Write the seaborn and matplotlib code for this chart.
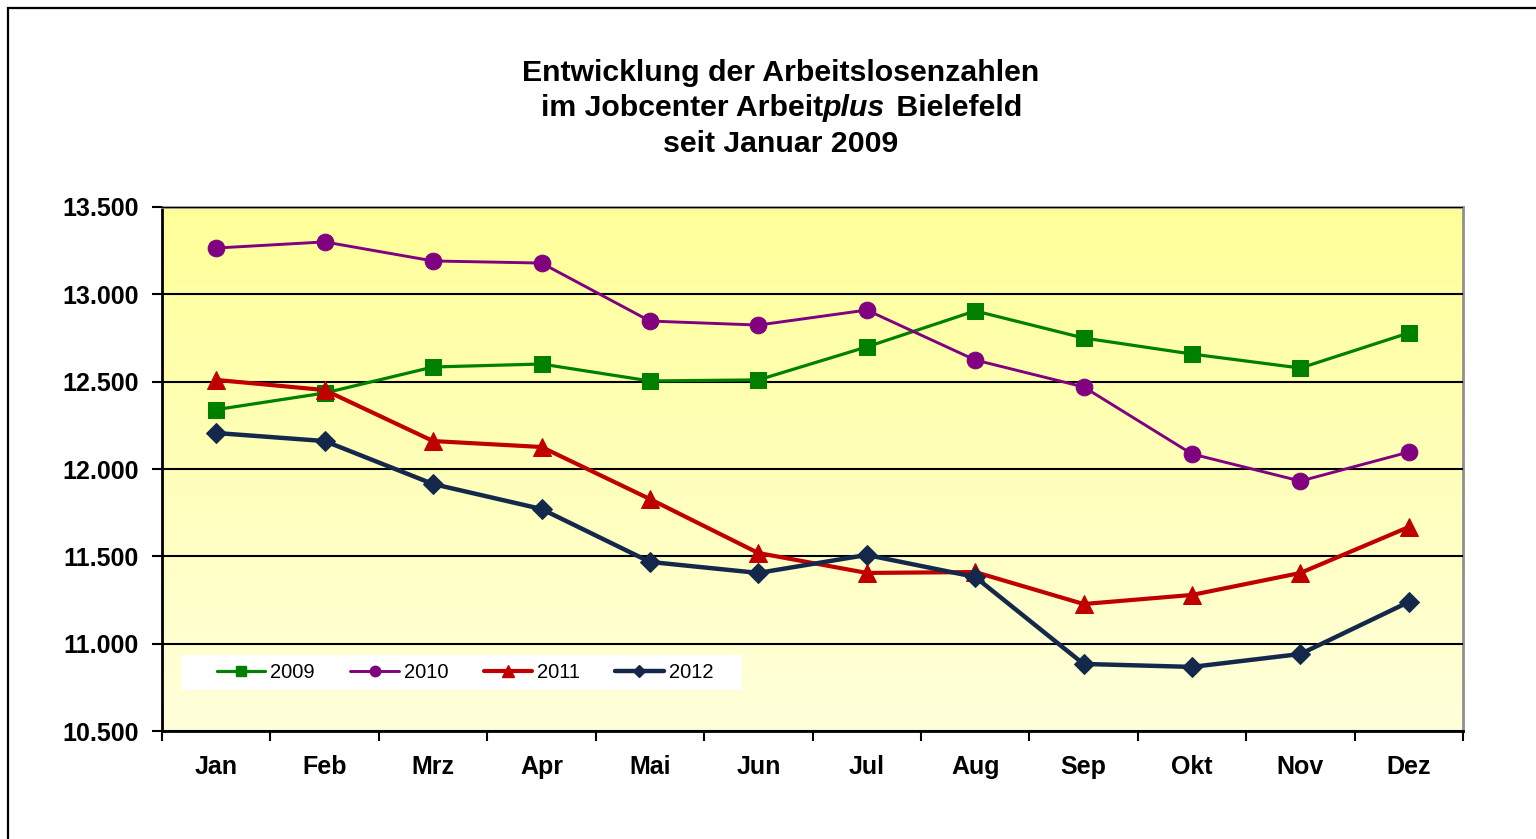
import numpy as np
import pandas as pd
import matplotlib
matplotlib.use("Agg")
import matplotlib.pyplot as plt
import seaborn as sns
from matplotlib.lines import Line2D
from matplotlib.patches import Rectangle
from matplotlib.ticker import FuncFormatter, FixedLocator

months = ["Jan", "Feb", "Mrz", "Apr", "Mai", "Jun", "Jul", "Aug", "Sep", "Okt", "Nov", "Dez"]
years = ["2009", "2010", "2011", "2012"]

v2009 = [12340, 12435, 12584, 12601, 12504, 12510, 12699, 12905, 12750, 12658, 12578, 12779]
v2010 = [13265, 13300, 13191, 13179, 12847, 12824, 12910, 12624, 12470, 12086, 11931, 12097]
v2011 = [12510, 12452, 12160, 12126, 11828, 11519, 11405, 11410, 11227, 11279, 11405, 11668]
v2012 = [12206, 12160, 11914, 11771, 11468, 11405, 11508, 11382, 10884, 10867, 10941, 11239]

df = pd.DataFrame({
    "Monat": months * 4,
    "pos": list(range(len(months))) * 4,
    "Jahr": np.repeat(years, len(months)),
    "Wert": v2009 + v2010 + v2011 + v2012,
})

styles = {
    "2009": dict(color="#008000", marker="s", ms=11, lw=2.3, lms=7),
    "2010": dict(color="#800080", marker="o", ms=12, lw=2.1, lms=7.5),
    "2011": dict(color="#C00000", marker="^", ms=13.5, lw=3.0, lms=8.5),
    "2012": dict(color="#14284B", marker="D", ms=10, lw=3.2, lms=6),
}

sns.set_theme(style="white")
plt.rcParams['font.family'] = ['Liberation Sans', 'DejaVu Sans']

fig = plt.figure(figsize=(15.36, 8.39), dpi=100)
ax = fig.add_axes([0.1055, 0.1287, 0.847, 0.6246])

# yellow gradient background
grad = np.linspace(0, 1, 256).reshape(-1, 1)
top = np.array([1.0, 1.0, 0.60])
bot = np.array([1.0, 1.0, 0.86])
img = top[None, None, :] * (1 - grad[:, :, None]) + bot[None, None, :] * grad[:, :, None]
ax.imshow(img, extent=[0, 1, 0, 1], transform=ax.transAxes, aspect="auto", zorder=0)

for y in years:
    s = styles[y]
    sns.lineplot(data=df[df["Jahr"] == y], x="pos", y="Wert", ax=ax, color=s["color"],
                 marker=s["marker"], markersize=s["ms"], linewidth=s["lw"],
                 markeredgecolor=s["color"], sort=False, zorder=3, label=None, legend=False)

ax.set_xlim(-0.5, 11.5)
ax.set_ylim(10500, 13500)
ax.set_xlabel("")
ax.set_ylabel("")
ax.set_xticks(range(len(months)))
ax.set_xticklabels(months)
ax.xaxis.set_minor_locator(FixedLocator(np.arange(-0.5, 12, 1)))
ax.set_yticks(np.arange(10500, 13501, 500))
ax.yaxis.set_major_formatter(FuncFormatter(lambda v, p: f"{v:,.0f}".replace(",", ".")))

ax.tick_params(axis="x", which="major", length=0, pad=17, labelsize=18)
ax.tick_params(axis="x", which="minor", length=7, width=1.5, color="black", direction="out", bottom=True)
ax.tick_params(axis="y", which="major", length=7, width=1.5, color="black", direction="out",
               left=True, pad=10, labelsize=18)
for lbl in ax.get_xticklabels() + ax.get_yticklabels():
    lbl.set_fontweight("bold")
    lbl.set_color("black")

ax.yaxis.grid(True, color="black", linewidth=1.5, zorder=1)
ax.set_axisbelow(False)
for ln in ax.get_ygridlines():
    ln.set_zorder(1)
ax.spines["left"].set_color("black")
ax.spines["bottom"].set_color("black")
ax.spines["top"].set_color("#909090")
ax.spines["right"].set_color("#909090")
for sp in ax.spines.values():
    sp.set_linewidth(2)
    sp.set_visible(True)

# legend: white box plus entries
ax.add_patch(Rectangle((19 / 1301, 41 / 524), 561 / 1301, 35 / 524, transform=ax.transAxes,
                       facecolor="white", edgecolor="none", zorder=2))
handles = [Line2D([], [], color=styles[y]["color"], lw=styles[y]["lw"], marker=styles[y]["marker"],
                  markersize=styles[y]["lms"], markeredgecolor=styles[y]["color"]) for y in years]
leg = ax.legend(handles, years, ncol=4, loc="center", bbox_to_anchor=(55 / 1301, 41 / 524, 496 / 1301, 35 / 524),
                mode="expand", frameon=False, fontsize=14.5, handlelength=2.4, handletextpad=0.25,
                borderaxespad=0, borderpad=0)
for t in leg.get_texts():
    t.set_color("black")

# outer frame
fig.patches.append(Rectangle((8 / 1536, -0.1), 1.2, 1.1 - 8 / 839, transform=fig.transFigure,
                             fill=False, edgecolor="black", linewidth=1.6, clip_on=False))

# title
fs = 21.8
fig.text(0.508, 1 - 73 / 839, "Entwicklung der Arbeitslosenzahlen", ha="center", va="center",
         fontsize=fs, fontweight="bold", color="black")
fig.text(0.508, 1 - 144 / 839, "seit Januar 2009", ha="center", va="center",
         fontsize=fs, fontweight="bold", color="black")
yl = 1 - 108 / 839
parts = [("im Jobcenter Arbeit", "normal"), ("plus", "italic"), (" Bielefeld", "normal")]
txts = [fig.text(0, yl, p, ha="left", va="center", fontsize=fs, fontweight="bold", style=st,
                 color="black") for p, st in parts]
fig.canvas.draw()
r = fig.canvas.get_renderer()
widths = [t.get_window_extent(r).width / fig.bbox.width for t in txts]
x0 = 0.508 - sum(widths) / 2
for t, w in zip(txts, widths):
    t.set_x(x0)
    x0 += w + (3 / 1536 if t.get_text() == "plus" else 0)

fig.savefig("out.png", dpi=100, facecolor="white")
